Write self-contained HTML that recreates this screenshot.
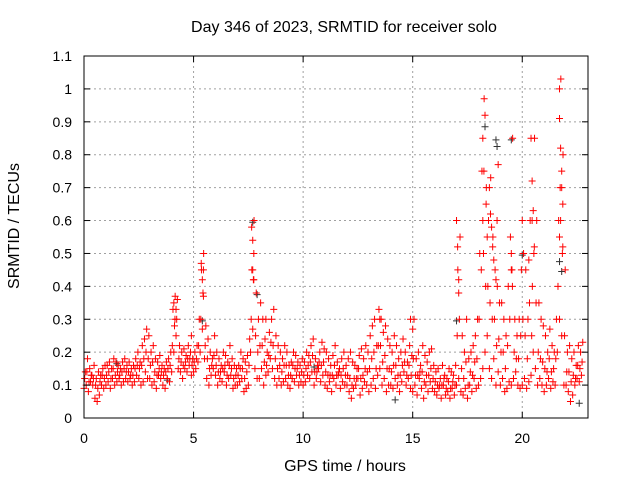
<!DOCTYPE html>
<html><head><meta charset="utf-8"><style>
body{margin:0;background:#fff}
svg{display:block;font-family:"Liberation Sans",sans-serif;font-size:14px}
.ttl{font-size:16px}
</style></head><body>
<svg id="chart" width="640" height="480" xmlns="http://www.w3.org/2000/svg">
<text class="ttl" x="344" y="32" text-anchor="middle">Day 346 of 2023, SRMTID for receiver solo</text>
<text class="ttl" x="345" y="471" text-anchor="middle">GPS time / hours</text>
<text class="ttl" transform="translate(19,226) rotate(-90)" text-anchor="middle">SRMTID / TECUs</text>
<g id="grid"></g><g id="marks"></g><g id="axes"></g>
</svg>
<script>
const xTicks=[0,5,10,15,20];
const yTicks=[0,0.1,0.2,0.3,0.4,0.5,0.6,0.7,0.8,0.9,1,1.1];
const yTickLabels=["0","0.1","0.2","0.3","0.4","0.5","0.6","0.7","0.8","0.9","1","1.1"];
const lowVals=[.09,.1,.08,.11,.1,.06,.05,.07,.1,.09,
.1,.11,.09,.12,.1,.11,.12,.1,.11,.12,
.11,.12,.1,.11,.13,.12,.1,.11,.14,.12,
.12,.1,.11,.09,.13,.12,.1,.09,.12,.11,
.14,.2,.25,.15,.14,.12,.15,.14,.16,.13,
.14,.15,.17,.2,.27,.18,.12,.1,.13,.15,
.13,.1,.12,.11,.14,.1,.12,.13,.09,.1,
.1,.11,.12,.08,.09,.1,.2,.27,.15,.12,
.12,.15,.1,.13,.14,.18,.15,.12,.1,.12,
.1,.11,.12,.1,.09,.12,.11,.13,.1,.11,
.1,.11,.13,.12,.14,.1,.12,.15,.11,.13,
.1,.09,.11,.08,.12,.1,.13,.09,.11,.1,
.1,.08,.06,.09,.1,.12,.07,.09,.11,.1,
.08,.1,.12,.09,.13,.15,.1,.12,.08,.1,
.1,.09,.12,.1,.08,.11,.14,.1,.12,.09,
.08,.1,.07,.12,.09,.06,.1,.08,.11,.09,
.08,.07,.09,.06,.1,.07,.08,.06,.09,.07,
.1,.12,.08,.07,.09,.06,.1,.08,.12,.09,
.1,.12,.15,.2,.25,.15,.12,.18,.1,.14,
.1,.12,.08,.09,.11,.1,.12,.14,.1,.09,
.1,.12,.09,.11,.13,.2,.15,.1,.12,.1,
.08,.1,.12,.09,.11,.1,.2,.3,.25,.1,
.1,.08,.05,.07,.1,.12,.11,.13];
const midVals=[.12,.14,.11,.13,.12,.1,.09,.11,.13,.12,
.13,.14,.12,.15,.13,.14,.13,.14,.15,.14,
.14,.13,.13,.15,.16,.15,.16,.18,.2,.18,
.16,.17,.14,.13,.15,.14,.13,.14,.15,.16,
.22,.28,.3,.18,.17,.16,.17,.18,.18,.16,
.17,.18,.22,.3,.38,.22,.18,.15,.16,.19,
.16,.14,.14,.15,.16,.13,.16,.15,.12,.13,
.13,.15,.15,.12,.14,.16,.3,.42,.25,.2,
.22,.22,.17,.16,.19,.23,.22,.18,.15,.16,
.14,.16,.16,.13,.13,.16,.15,.15,.13,.14,
.13,.15,.16,.17,.19,.14,.14,.17,.16,.17,
.14,.13,.13,.13,.16,.13,.14,.13,.15,.13,
.13,.12,.1,.12,.12,.15,.12,.13,.15,.14,
.15,.18,.2,.15,.22,.22,.17,.19,.15,.15,
.14,.16,.16,.13,.13,.16,.17,.13,.16,.13,
.18,.13,.13,.14,.14,.11,.13,.13,.15,.12,
.11,.1,.1,.1,.12,.09,.11,.09,.11,.1,
.25,.3,.15,.12,.17,.1,.14,.13,.17,.18,
.3,.45,.5,.4,.4,.35,.3,.3,.22,.24,
.2,.2,.15,.22,.3,.45,.2,.18,.18,.25,
.3,.25,.18,.35,.25,.5,.35,.2,.18,.17,
.15,.14,.18,.14,.15,.18,.4,.7,.5,.25,
.14,.14,.11,.13,.12,.16,.15,.17];
const highVals=[.14,.18,.15,.13,.16,.12,.14,.13,.15,.16,
.16,.17,.15,.18,.17,.16,.15,.17,.18,.16,
.17,.15,.16,.18,.2,.17,.22,.24,.27,.25,
.2,.22,.18,.17,.19,.16,.15,.17,.18,.2,
.33,.37,.36,.22,.2,.21,.19,.22,.2,.18,
.2,.22,.3,.45,.5,.28,.24,.2,.18,.25,
.2,.18,.16,.2,.19,.17,.22,.18,.16,.15,
.16,.2,.18,.17,.19,.24,.45,.6,.38,.3,
.35,.3,.24,.2,.26,.3,.33,.25,.22,.2,
.18,.22,.2,.16,.17,.2,.19,.17,.16,.18,
.17,.2,.19,.22,.24,.18,.16,.2,.23,.21,
.2,.18,.16,.19,.22,.17,.15,.18,.2,.16,
.18,.2,.17,.16,.15,.19,.21,.18,.22,.2,
.25,.28,.3,.22,.33,.3,.26,.28,.24,.22,
.2,.25,.22,.18,.2,.24,.2,.17,.22,.19,
.3,.18,.2,.16,.22,.19,.17,.2,.21,.16,
.14,.15,.12,.16,.13,.12,.15,.14,.13,.16,
.45,.55,.25,.2,.3,.18,.2,.22,.25,.3,
.5,.75,.97,.7,.6,.73,.55,.45,.4,.35,
.35,.3,.25,.4,.55,.85,.3,.25,.3,.45,
.5,.45,.3,.6,.4,.85,.6,.35,.3,.28,
.25,.2,.27,.22,.2,.3,.6,1.03,.8,.45,
.2,.22,.18,.2,.16,.22,.2,.23];
const spikeTimes=[4.1,4.15,4.2,5.35,5.4,5.45,5.45,7.65,7.7,7.7,7.75,7.75,17.0,17.05,17.1,17.1,18.2,18.25,18.2,18.3,18.35,18.5,18.55,18.6,18.65,18.7,18.4,18.8,18.9,18.85,19.5,19.5,19.55,20.0,20.4,20.45,20.45,20.5,20.55,20.3,21.7,21.7,21.75,21.8,21.8,21.85,21.75,21.7,21.85,4.9,8.3,13.5,14.9,15.0];
const spikeVals=[.35,.3,.33,.47,.42,.45,.37,.58,.54,.45,.5,.42,.6,.52,.38,.42,.85,.75,.6,.92,.65,.7,.62,.58,.52,.48,.55,.42,.77,.6,.5,.45,.4,.6,.85,.72,.6,.63,.52,.48,1.0,.91,.82,.75,.7,.65,.6,.55,.52,.25,.3,.3,.3,.27];
const blackTimes=[7.7,18.3,18.8,18.85,19.5,20.0,21.7,21.8,17.0,7.9,5.4,22.6,1.5,10.5,14.2,3.8];
const blackVals=[.6,.89,.85,.83,.85,.5,.48,.45,.3,.38,.3,.05,.17,.16,.06,.12];
const X=h=>84+h*(504/23), Y=v=>418-v*(362/1.1);
const NS="http://www.w3.org/2000/svg";
function mk(t,a,p){const e=document.createElementNS(NS,t);for(const k in a)e.setAttribute(k,a[k]);p.appendChild(e);return e;}
const grid=document.getElementById('grid'),marks=document.getElementById('marks'),axes=document.getElementById('axes');
xTicks.forEach(t=>{
 if(t>0){const l=mk('line',{x1:X(t),x2:X(t),y1:56,y2:418,stroke:'#a0a0a0','stroke-dasharray':'2,3'},grid);
 
 }
 mk('line',{x1:X(t),x2:X(t),y1:418,y2:412,stroke:'#000'},axes);
 mk('line',{x1:X(t),x2:X(t),y1:56,y2:62,stroke:'#000'},axes);
 const tx=mk('text',{x:X(t),y:443,'text-anchor':'middle'},axes);tx.textContent=t;
 
 
});
yTicks.forEach((t,i)=>{
 if(i>0&&i<yTicks.length-1){const l=mk('line',{x1:84,x2:588,y1:Y(t),y2:Y(t),stroke:'#a0a0a0','stroke-dasharray':'2,3'},grid);
 
 }
 mk('line',{x1:84,x2:90,y1:Y(t),y2:Y(t),stroke:'#000'},axes);
 mk('line',{x1:582,x2:588,y1:Y(t),y2:Y(t),stroke:'#000'},axes);
 const tx=mk('text',{x:72,y:Y(t)+5,'text-anchor':'end'},axes);tx.textContent=yTickLabels[i];
 
 
});
const frame=mk('rect',{x:84,y:56,width:504,height:362,fill:'none',stroke:'#000'},axes);


function plus(h,v,c,name){
 const x=X(h),y=Y(v);
 const p=mk('path',{d:`M${x-3.5} ${y}h7M${x} ${y-3.5}v7`,stroke:c,'stroke-width':1,fill:'none'},marks);
 
 
}
blackTimes.forEach((t,i)=>plus(t,blackVals[i]-0.005,'#333','point-black'));
lowVals.forEach((v,i)=>plus(i*0.1,v,'#f00','point-low'));
midVals.forEach((v,i)=>plus(i*0.1+0.03,v,'#f00','point-mid'));
highVals.forEach((v,i)=>plus(i*0.1+0.06,v,'#f00','point-high'));
spikeTimes.forEach((t,i)=>plus(t,spikeVals[i],'#f00','point-spike'));
</script>
</body></html>
